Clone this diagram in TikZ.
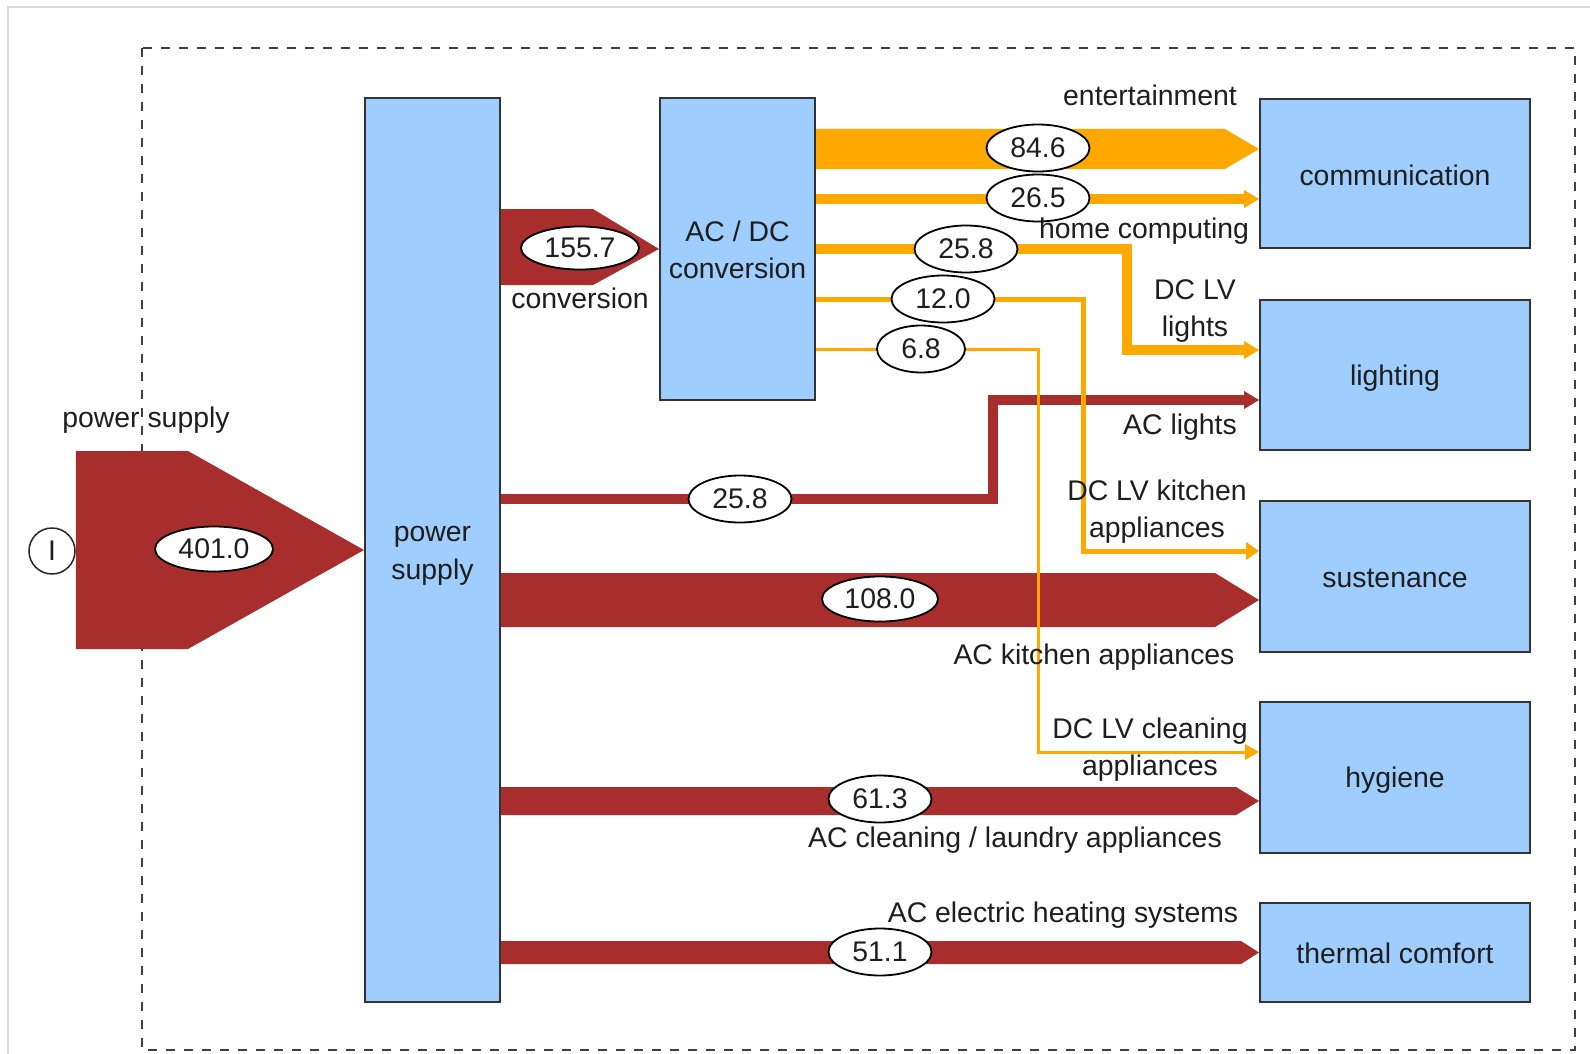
\documentclass[tikz,border=0pt]{standalone}
\usepackage{fontspec}
\setmainfont{Liberation Sans}
\usetikzlibrary{arrows.meta,shapes.geometric}
\definecolor{flowred}{RGB}{168,45,45}
\definecolor{floworange}{RGB}{255,168,0}
\definecolor{boxblue}{RGB}{159,205,253}
\definecolor{txt}{RGB}{30,30,30}
\begin{document}
\begin{tikzpicture}[x=1pt,y=-1pt,
  box/.style={draw=black!80, line width=2pt, fill=boxblue, inner sep=0pt},
  btext/.style={text=txt, font=\fontsize{28.4}{37.5}\selectfont, align=center, inner sep=0pt},
  val/.style={ellipse, draw=black, line width=1.8pt, fill=white, inner sep=0pt,
    minimum width=103pt, minimum height=47pt, text=txt, font=\fontsize{28.4}{34}\selectfont},
  lbl/.style={text=txt, font=\fontsize{28.4}{37}\selectfont, align=center, inner sep=0pt, yshift=-3pt},
  redline/.style={draw=flowred, line width=10pt,
    -{Triangle[length=15pt,width=18pt,line width=0pt]}},
  orline/.style={draw=floworange, line width=#1},
  tipbig/.style={-{Triangle[length=15pt,width=18pt,line width=0pt]}},
  tipmid/.style={-{Triangle[length=13pt,width=18pt,line width=0pt]}},
  tipsmall/.style={-{Triangle[length=14pt,width=16pt,line width=0pt]}}
]
\useasboundingbox (0,0) rectangle (1590,1054);
\fill[white] (0,0) rectangle (1590,1054);
% outer frame
\draw[black!15, line width=2pt] (8,1054) -- (8,7) -- (1590,7);
% dashed system boundary
\draw[black!75, line width=2pt, dash pattern=on 9pt off 9pt] (142,48) rectangle (1575,1050);

% boxes
\node[box, minimum width=135pt, minimum height=904pt,
  label={[btext, yshift=-6pt]center:{power\\supply}}] (ps) at (432.5,550) {};
\node[box, minimum width=155pt, minimum height=302pt,
  label={[btext, yshift=-1pt]center:{AC / DC\\conversion}}] (acdc) at (737.5,249) {};
\node[box, minimum width=270pt, minimum height=149pt,
  label={[btext, yshift=-2pt]center:communication}] (comm) at (1395,173.5) {};
\node[box, minimum width=270pt, minimum height=150pt,
  label={[btext, yshift=-3pt]center:lighting}] (light) at (1395,375) {};
\node[box, minimum width=270pt, minimum height=151pt,
  label={[btext, yshift=-2pt]center:sustenance}] (sust) at (1395,576.5) {};
\node[box, minimum width=270pt, minimum height=151pt,
  label={[btext, yshift=-3pt]center:hygiene}] (hyg) at (1395,777.5) {};
\node[box, minimum width=270pt, minimum height=99pt,
  label={[btext, yshift=-1pt]center:thermal comfort}] (therm) at (1395,952.5) {};

% source
\node[circle, draw=black!85, line width=1.5pt, minimum size=46pt, inner sep=0pt, text=txt,
  font=\fontsize{28.4}{34}\selectfont] (src) at (52,551) {I};

% red flows
\fill[flowred] (src.east|-0,451) -- (188,451) -- (ps.west) -- (188,649) -- (src.east|-0,649) -- cycle;
\fill[flowred] (ps.east|-0,209) -- (593,209) -- (acdc.west) -- (593,285) -- (ps.east|-0,285) -- cycle;
\draw[redline] (ps.east|-0,499) -| (993,400) -- (light.west|-0,400);
\fill[flowred] (ps.east|-0,573) -- (1215,573) -- (sust.west|-0,600) -- (1215,627) -- (ps.east|-0,627) -- cycle;
\fill[flowred] (ps.east|-0,787) -- (1236,787) -- (hyg.west|-0,801) -- (1236,815) -- (ps.east|-0,815) -- cycle;
\fill[flowred] (ps.east|-0,941) -- (1241,941) -- (therm.west|-0,952.5) -- (1241,964) -- (ps.east|-0,964) -- cycle;

% orange flows
\fill[floworange] (acdc.east|-0,129) -- (1225,129) -- (comm.west|-0,149) -- (1225,169) -- (acdc.east|-0,169) -- cycle;
\draw[orline=10pt, tipbig] (acdc.east|-0,199) -- (comm.west|-0,199);
\draw[orline=10pt, tipbig] (acdc.east|-0,249) -| (1127,350) -- (light.west|-0,350);
\draw[orline=5pt, tipmid] (acdc.east|-0,299) -| (1083,551) -- (sust.west|-0,551);
\draw[orline=3pt, tipsmall] (acdc.east|-0,349) -| (1038,752) -- (hyg.west|-0,752);

% value labels
\node[val, minimum width=118pt, minimum height=45pt] (v401) at (214,549) {401.0};
\node[val, minimum width=118pt, minimum height=43pt] (v155) at (580,248) {155.7};
\node[val] (v846) at (1038,148) {84.6};
\node[val] (v265) at (1038,198) {26.5};
\node[val] (v258o) at (966,249) {25.8};
\node[val] (v120) at (943,299) {12.0};
\node[val, minimum width=88pt] (v68) at (921,349) {6.8};
\node[val] (v258r) at (740,499) {25.8};
\node[val, minimum width=116pt, minimum height=45pt] (v1080) at (880,599) {108.0};
\node[val] (v613) at (880,799) {61.3};
\node[val] (v511) at (880,952) {51.1};

% flow labels
\node[lbl] at (146,417) {power supply};
\node[lbl] at (580,295) {conversion};
\node[lbl] at (1150,92) {entertainment};
\node[lbl] at (1144,228) {home computing};
\node[lbl] at (1195,308) {DC LV\\lights};
\node[lbl] at (1180,424) {AC lights};
\node[lbl] at (1157,509) {DC LV kitchen\\appliances};
\node[lbl] at (1094,654) {AC kitchen appliances};
\node[lbl] at (1150,747) {DC LV cleaning\\appliances};
\node[lbl] at (1015,837) {AC cleaning / laundry appliances};
\node[lbl] at (1063,912) {AC electric heating systems};
\end{tikzpicture}
\end{document}
